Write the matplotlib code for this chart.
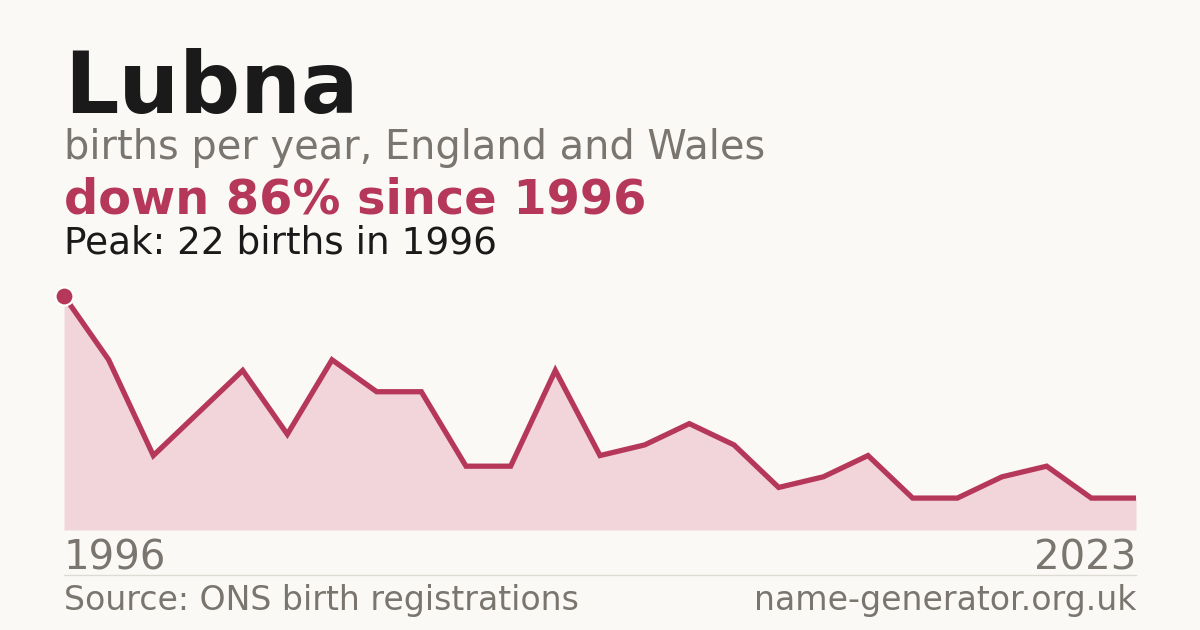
import matplotlib
matplotlib.use("Agg")
import matplotlib.pyplot as plt
import numpy as np

# ---- data ----
name = "Lubna"
births = [22, 16, 7, 11, 15, 9, 16, 13, 13, 6, 6, 15, 7, 8, 10, 8, 4, 5, 7, 3, 3, 5, 6, 3, 3]
first_year = "1996"
last_year = "2023"
peak_value = 22
peak_year = "1996"
change_text = "down 86% since 1996"

# ---- style ----
BG = "#faf9f5"
RED = "#b5375a"
FILL = "#f1d5db"
GRAY = "#7a756e"
DARK = "#1a1a1a"

W, H = 1200, 630
fig = plt.figure(figsize=(W / 100, H / 100), dpi=100, facecolor=BG)
plt.rcParams['font.family'] = ['DejaVu Sans']

def fy(px):
    return 1 - px / H

def fx(px):
    return px / W

ax = fig.add_axes([fx(64), fy(530), fx(1136) - fx(64), fy(296) - fy(530)])
ax.set_facecolor(BG)
x = np.arange(len(births))
ax.fill_between(x, births, 0, color=FILL, linewidth=0, zorder=1)
ax.plot(x, births, color=RED, linewidth=3.8, solid_joinstyle='miter', zorder=2)
ax.plot([x[0]], [births[0]], marker='o', markersize=13, color=RED,
        markeredgecolor="#ffffff", markeredgewidth=1.6, clip_on=False, zorder=3)
ax.set_xlim(0, len(births) - 1)
ax.set_ylim(0, peak_value)
ax.axis('off')

# ---- texts ----
fig.text(fx(64), fy(113), name, fontsize=61.5, fontweight='bold', color=DARK, va='baseline', ha='left')
fig.text(fx(64), fy(159), "births per year, England and Wales", fontsize=28.7, color=GRAY, va='baseline', ha='left')
fig.text(fx(64), fy(214), change_text, fontsize=34.5, fontweight='bold', color=RED, va='baseline', ha='left')
fig.text(fx(64), fy(254), f"Peak: {peak_value} births in {peak_year}", fontsize=26.9, color=DARK, va='baseline', ha='left')

fig.text(fx(64), fy(570), first_year, fontsize=29, color=GRAY, va='baseline', ha='left')
fig.text(fx(1136), fy(570), last_year, fontsize=29, color=GRAY, va='baseline', ha='right')

fig.add_artist(plt.Line2D([fx(64), fx(1136)], [fy(574.5), fy(574.5)], color="#dedbd4", linewidth=1))

fig.text(fx(64), fy(610), "Source: ONS birth registrations", fontsize=23.9, color=GRAY, va='baseline', ha='left')
fig.text(fx(1136), fy(610), "name-generator.org.uk", fontsize=23.9, color=GRAY, va='baseline', ha='right')

fig.savefig("out.png", dpi=100, facecolor=BG)
